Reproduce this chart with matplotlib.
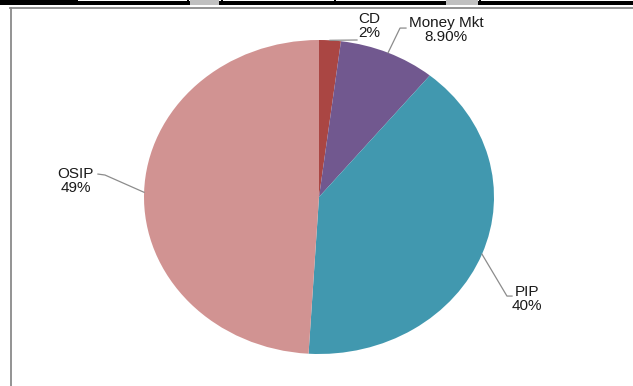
import matplotlib.pyplot as plt
import numpy as np
from matplotlib.patches import Rectangle
from matplotlib.lines import Line2D

plt.rcParams['font.family'] = ['Liberation Sans', 'DejaVu Sans']

labels = ['CD', 'Money Mkt', 'PIP', 'OSIP']
values = [2, 8.9, 40, 49]
pct_text = ['2%', '8.90%', '40%', '49%']
colors = ['#AA4643', '#71588F', '#4198AF', '#D19392']

W, H = 633, 386
fig = plt.figure(figsize=(W / 100, H / 100), dpi=100)


def fx(px):
    return px / W


def fy(py):
    return 1 - py / H


# table border strip at the very top
fig.add_artist(Rectangle((0, fy(4.5)), 1, fy(1.5) - fy(4.5), transform=fig.transFigure,
                         color='black', lw=0))
fig.add_artist(Rectangle((0, fy(4.5)), fx(76), 1 - fy(4.5), transform=fig.transFigure,
                         color='black', lw=0))
for x in [76, 187, 221, 334, 479]:
    fig.add_artist(Rectangle((fx(x), fy(4.5)), fx(2), 1 - fy(4.5), transform=fig.transFigure,
                             color='black', lw=0))
for x0, x1 in [(190, 219), (446, 478)]:
    fig.add_artist(Rectangle((fx(x0), fy(4.5)), fx(x1 - x0), 1 - fy(4.5),
                             transform=fig.transFigure, color='#c0c0c0', lw=0))

# chart frame
fig.add_artist(Line2D([fx(10), 1], [fy(7.5), fy(7.5)], transform=fig.transFigure,
                      color='#8a8a8a', lw=1.3))
fig.add_artist(Line2D([fx(10.5), fx(10.5)], [fy(7.5), 0], transform=fig.transFigure,
                      color='#8a8a8a', lw=1.3))

ax = fig.add_axes([fx(144), fy(354), fx(350), fy(40) - fy(354)])
wedges, _ = ax.pie(values, colors=colors, startangle=90, counterclock=False,
                   wedgeprops=dict(linewidth=0))
ax.set_aspect('auto')
ax.set_xlim(-1, 1)
ax.set_ylim(-1, 1)
ax.axis('off')

# label layout: (elbow, end of leader, text centre) in data units
layout = [
    ((0.217, 1.0), (0.217, 1.0), (0.286, 1.09)),
    ((0.463, 1.076), (0.497, 1.076), (0.726, 1.064)),
    ((1.074, -0.631), (1.103, -0.631), (1.189, -0.65)),
    ((-1.223, 0.140), (-1.263, 0.146), (-1.389, 0.102)),
]

for w, lab, pct, (elbow, end, txt) in zip(wedges, labels, pct_text, layout):
    mid = np.deg2rad((w.theta1 + w.theta2) / 2)
    px, py = np.cos(mid), np.sin(mid)
    ax.plot([px, elbow[0], end[0]], [py, elbow[1], end[1]], color='#8c8c8c', lw=0.9,
            clip_on=False)
    ax.text(txt[0], txt[1], lab + '\n' + pct, ha='center', va='center', fontsize=11,
            linespacing=1.0, color='#1a1a1a', clip_on=False)

fig.savefig('out.png', dpi=100)
